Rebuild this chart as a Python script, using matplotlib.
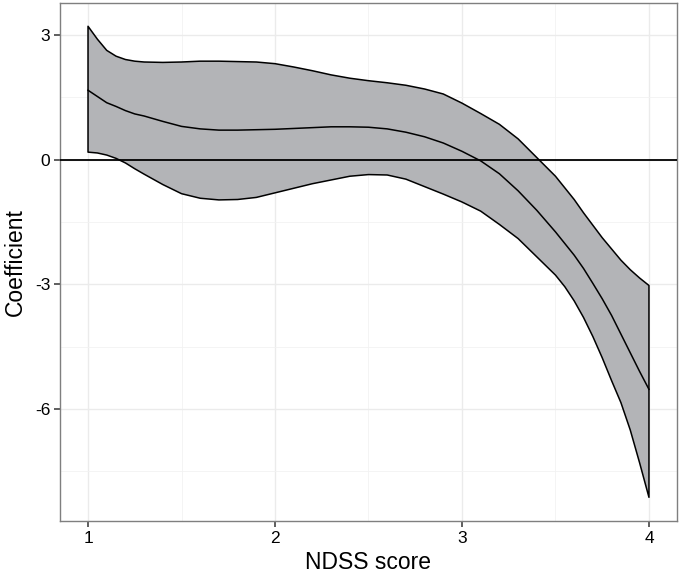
import matplotlib
matplotlib.use("Agg")
import matplotlib.pyplot as plt
import numpy as np

plt.rcParams['font.family'] = ['Liberation Sans', 'DejaVu Sans']

ndss = [1.0, 1.05, 1.1, 1.15, 1.2, 1.25, 1.3, 1.4, 1.5, 1.6, 1.7, 1.8, 1.9, 2.0,
        2.1, 2.2, 2.3, 2.4, 2.5, 2.6, 2.7, 2.8, 2.9, 3.0,
        3.1, 3.2, 3.3, 3.4, 3.5, 3.55, 3.6, 3.65, 3.7, 3.75, 3.8, 3.85, 3.9, 3.95, 4.0]
coef = [1.67, 1.52, 1.37, 1.28, 1.18, 1.10, 1.05, 0.92, 0.80, 0.74, 0.71, 0.71, 0.72, 0.73,
        0.75, 0.77, 0.79, 0.79, 0.78, 0.74, 0.66, 0.55, 0.40, 0.20,
        -0.03, -0.34, -0.75, -1.22, -1.74, -2.02, -2.30, -2.62, -2.98, -3.35, -3.75, -4.20, -4.65, -5.10, -5.53]
upper = [3.21, 2.90, 2.63, 2.49, 2.41, 2.37, 2.35, 2.34, 2.35, 2.37, 2.37, 2.36, 2.35, 2.31,
         2.23, 2.14, 2.04, 1.96, 1.90, 1.85, 1.79, 1.70, 1.58, 1.36,
         1.11, 0.85, 0.50, 0.05, -0.40, -0.68, -0.96, -1.28, -1.58, -1.88, -2.15, -2.42, -2.65, -2.85, -3.03]
lower = [0.18, 0.16, 0.11, 0.03, -0.08, -0.22, -0.35, -0.60, -0.82, -0.93, -0.97, -0.96, -0.91, -0.80,
         -0.69, -0.58, -0.49, -0.40, -0.36, -0.37, -0.47, -0.65, -0.83, -1.02,
         -1.24, -1.56, -1.90, -2.34, -2.78, -3.06, -3.40, -3.80, -4.26, -4.77, -5.32, -5.85, -6.51, -7.30, -8.13]

xticks = [1, 2, 3, 4]
yticks = [3, 0, -3, -6]

fig = plt.figure(figsize=(6.8, 5.8), dpi=100)
ax = fig.add_axes([0.0882, 0.1017, 0.9956 - 0.0882, 0.9948 - 0.1017])

x = np.array(ndss)
poly_x = np.concatenate([x, x[::-1]])
poly_y = np.concatenate([np.array(upper), np.array(lower)[::-1]])
ax.fill(poly_x, poly_y, facecolor='#b3b4b7', edgecolor='black', linewidth=1.1, zorder=3,
        joinstyle='round')
ax.plot(x, coef, color='black', linewidth=1.1, zorder=4, solid_joinstyle='round')
ax.axhline(0, color='black', linewidth=1.3, zorder=5)

ax.set_xlim(0.85, 4.15)
ax.set_ylim(-8.70, 3.77)

ax.set_xticks(xticks)
ax.set_yticks(yticks)
ax.set_xticklabels([str(v) for v in xticks])
ax.set_yticklabels([str(v) for v in yticks])
ax.set_xticks([1.5, 2.5, 3.5], minor=True)
ax.set_yticks([1.5, -1.5, -4.5, -7.5], minor=True)
ax.grid(which='major', color='#ebebeb', linewidth=1.0, zorder=0)
ax.grid(which='minor', color='#f2f2f2', linewidth=0.6, zorder=0)
ax.set_axisbelow(True)
ax.tick_params(which='minor', length=0)
ax.tick_params(which='major', length=4, width=1.1, color='#333333', labelsize=12.5,
               labelcolor='black', pad=3)
for s in ax.spines.values():
    s.set_color('#7f7f7f')
    s.set_linewidth(1.0)

ax.set_xlabel('NDSS score', fontsize=16.5, labelpad=4)
ax.set_ylabel('Coefficient', fontsize=16.5, labelpad=6)

fig.savefig('out.png', dpi=100)
